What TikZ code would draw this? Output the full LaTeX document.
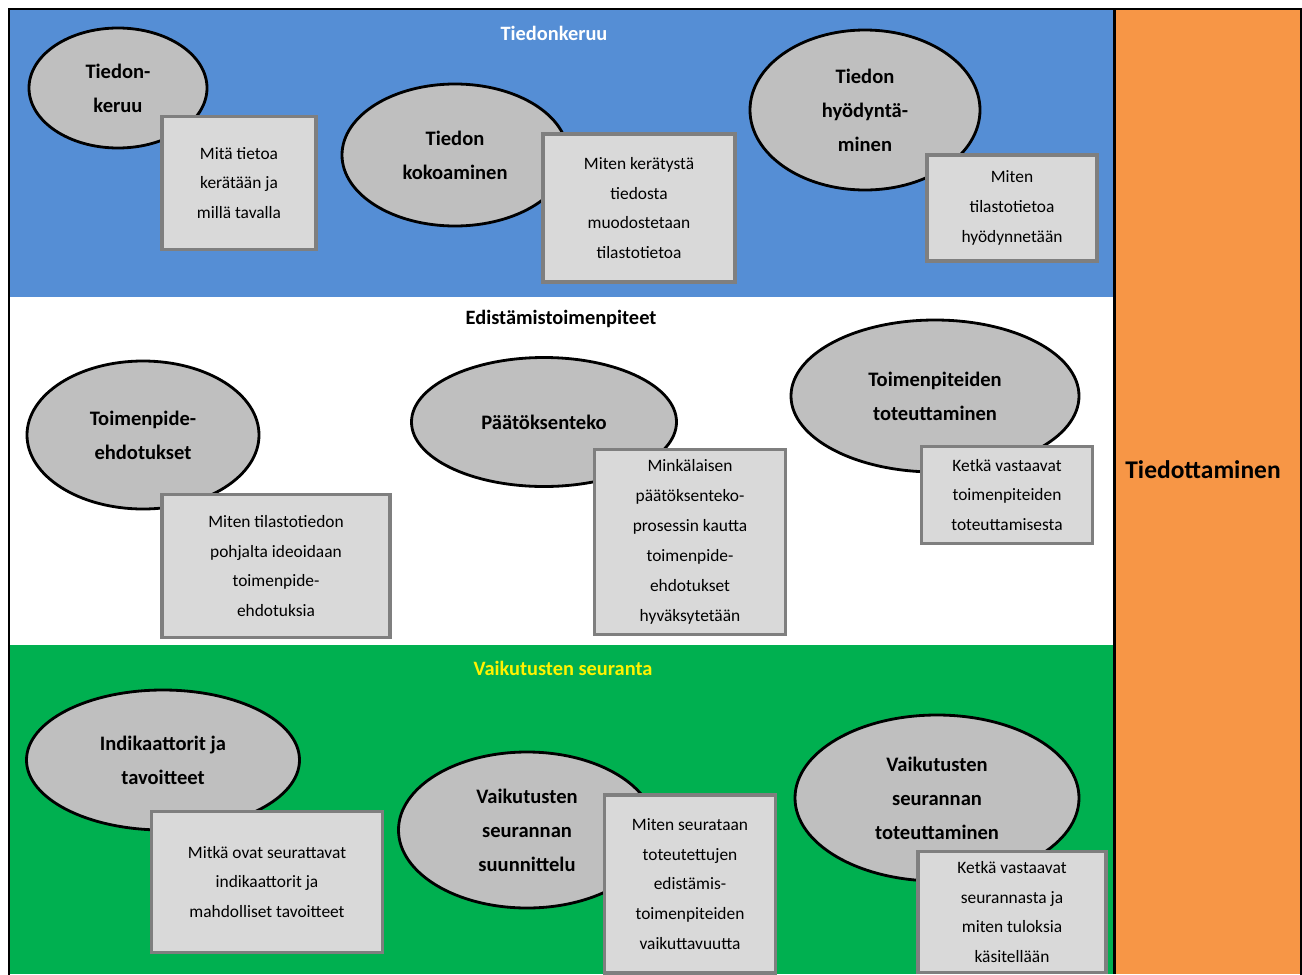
\documentclass[tikz,border=0pt]{standalone}
\usepackage{fontspec}
\setmainfont{Carlito}
\usepackage{xcolor}
\usepackage{tikz}
\usetikzlibrary{shapes.geometric}

\definecolor{bandblue}{RGB}{85,142,213}
\definecolor{bandgreen}{RGB}{0,176,80}
\definecolor{bandorange}{RGB}{247,150,70}
\definecolor{ellgray}{RGB}{191,191,191}
\definecolor{boxgray}{RGB}{217,217,217}
\definecolor{boxline}{RGB}{127,127,127}

\begin{document}
\begin{tikzpicture}[x=0.02cm, y=-0.02cm,
  sz/.style 2 args={minimum width=#1*0.02cm, minimum height=#2*0.02cm},
  ell/.style={ellipse, draw=black, fill=ellgray, line width=1.6pt, inner sep=0pt, align=center,
    font=\fontsize{11.7}{19.3}\selectfont\bfseries},
  box/.style={rectangle, draw=boxline, fill=boxgray, line width=1.8pt, inner sep=0pt, align=center,
    font=\fontsize{9.9}{17}\selectfont},
  band/.style={font=\fontsize{11.6}{13}\selectfont\bfseries}]
  \useasboundingbox (0,0) rectangle (1302,974);
  % bands
  \fill[bandblue] (9,9) rectangle (1114,297);
  \fill[white] (9,297) rectangle (1114,645);
  \fill[bandgreen] (9,645) rectangle (1114,974);
  \fill[bandorange] (1114,9) rectangle (1302,974);
  \draw[line width=1.7pt] (1114.5,9) -- (1114.5,974);
  \draw[line width=1.7pt] (9,980) -- (9,9) -- (1301,9) -- (1301,980);
  \node[band, text=white] (keruu) at (554,33) {Tiedonkeruu};
  \node[band] (edist) at (561,319) {Edistämistoimenpiteet};
  \node[band, text=yellow] (seur) at (563,668) {Vaikutusten seuranta};
  \node[font=\fontsize{14.5}{16}\selectfont\bfseries] (tiedot) at (1203,470) {Tiedottaminen};

  % Tiedonkeruu
  \node[ell, sz={178}{120}] (e1) at (118,88) {Tiedon-\\keruu};
  \node[box, sz={154}{133}] (b1) at (239,183) {Mitä tietoa\\kerätään ja\\millä tavalla};
  \node[ell, sz={226}{142}] (e2) at (455,155) {Tiedon\\kokoaminen};
  \node[box, sz={192}{148}] (b2) at (639,208) {Miten kerätystä\\tiedosta\\muodostetaan\\tilastotietoa};
  \node[ell, sz={230}{160}] (e3) at (865,110) {Tiedon\\hyödyntä-\\minen};
  \node[box, sz={170}{106}] (b3) at (1012,208) {Miten\\tilastotietoa\\hyödynnetään};

  % Edistamistoimenpiteet
  \node[ell, sz={232}{148}] (e4) at (143,435) {Toimenpide-\\ehdotukset};
  \node[box, sz={228}{143}] (b4) at (276,566) {Miten tilastotiedon\\pohjalta ideoidaan\\toimenpide-\\ehdotuksia};
  \node[ell, sz={265}{129}] (e5) at (544,422) {Päätöksenteko};
  \node[box, sz={191}{185}] (b5) at (690,542) {Minkälaisen\\päätöksenteko-\\prosessin kautta\\toimenpide-\\ehdotukset\\hyväksytetään};
  \node[ell, sz={288}{152}] (e6) at (935,396) {Toimenpiteiden\\toteuttaminen};
  \node[box, sz={171}{97}] (b6) at (1007,495) {Ketkä vastaavat\\toimenpiteiden\\toteuttamisesta};

  % Vaikutusten seuranta
  \node[ell, sz={273}{140}] (e7) at (163,760) {Indikaattorit ja\\tavoitteet};
  \node[box, sz={231}{141}] (b7) at (267,882) {Mitkä ovat seurattavat\\indikaattorit ja\\mahdolliset tavoitteet};
  \node[ell, sz={257}{156}] (e8) at (527,830) {Vaikutusten\\seurannan\\suunnittelu};
  \node[box, sz={171}{178}] (b8) at (690,884) {Miten seurataan\\toteutettujen\\edistämis-\\toimenpiteiden\\vaikuttavuutta};
  \node[ell, sz={284}{166}] (e9) at (937,798) {Vaikutusten\\seurannan\\toteuttaminen};
  \node[box, sz={188}{121}] (b9) at (1012,912) {Ketkä vastaavat\\seurannasta ja\\miten tuloksia\\käsitellään};
\end{tikzpicture}
\end{document}
